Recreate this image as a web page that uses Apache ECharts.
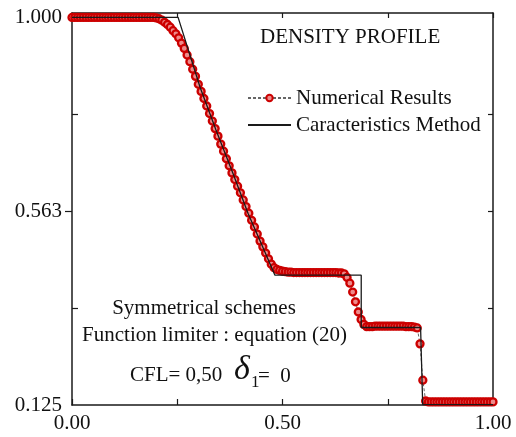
<!DOCTYPE html>
<html>
<head>
<meta charset="utf-8">
<script src="https://cdn.jsdelivr.net/npm/echarts@6/dist/echarts.min.js"></script>
<style>
  html, body { margin: 0; padding: 0; background: #fff; }
  #chart { width: 516px; height: 437px; }
</style>
</head>
<body>
<div id="chart"></div>
<script>
// Shock-tube density profile: numerical scheme (150 cells) vs. exact characteristics solution.
const cellCount = 150;

// Numerical density at x = i / cellCount, i = 0..150
const numericalDensity = [
  1.000, 1.000, 1.000, 1.000, 1.000, 1.000, 1.000, 1.000, 1.000, 1.000,
  1.000, 1.000, 1.000, 1.000, 1.000, 1.000, 1.000, 1.000, 1.000, 1.000,
  1.000, 1.000, 1.000, 1.000, 1.000, 1.000, 1.000, 1.000, 1.000, 1.000,
  0.999, 0.997, 0.994, 0.989, 0.984, 0.978, 0.970, 0.963, 0.954, 0.942,
  0.930, 0.915, 0.900, 0.883, 0.867, 0.849, 0.833, 0.817, 0.800, 0.783,
  0.766, 0.749, 0.732, 0.714, 0.698, 0.681, 0.665, 0.649, 0.634, 0.619,
  0.604, 0.588, 0.573, 0.558, 0.542, 0.527, 0.511, 0.495, 0.482, 0.468,
  0.455, 0.443, 0.435, 0.431, 0.429, 0.427, 0.426,
  0.425, 0.425, 0.424, 0.424, 0.424, 0.424, 0.424, 0.424, 0.424, 0.424,
  0.424, 0.424, 0.424, 0.424, 0.424, 0.424, 0.424, 0.424, 0.423, 0.423,
  0.421, 0.413, 0.400, 0.380, 0.358, 0.335, 0.318, 0.307, 0.302,
  0.302, 0.302, 0.303, 0.303, 0.303, 0.303, 0.303, 0.303, 0.303, 0.303,
  0.303, 0.303, 0.303, 0.302, 0.302, 0.302, 0.301,
  0.299, 0.263, 0.181, 0.134,
  0.132, 0.132, 0.132, 0.132, 0.132, 0.132, 0.132, 0.132, 0.132, 0.132,
  0.132, 0.132, 0.132, 0.132, 0.132, 0.132, 0.132, 0.132, 0.132, 0.132,
  0.132, 0.132, 0.132, 0.132
];

// Characteristics-method solution (breakpoints of the piecewise profile)
const exactX = [0.000, 0.252, 0.304, 0.342, 0.382, 0.418, 0.451, 0.482, 0.687, 0.687, 0.828, 0.833, 1.000];
const exactY = [1.000, 1.000, 0.843, 0.746, 0.649, 0.558, 0.486, 0.418, 0.418, 0.300, 0.300, 0.126, 0.126];

// Axis ticks and labels
const xTickLabels = ['0.00', '0.50', '1.00'];
const xLabelValues = [0, 0.5, 1];
const yLabelValues = [0.125, 0.5625, 1.0];
const yTickLabels = ['0.125', '0.563', '1.000'];
const yInnerTicks = [0.34375, 0.78125];
const yRightTicks = [0.34375, 0.5625, 0.78125];

const seriesNames = ['Numerical Results', 'Caracteristics Method'];

const FONT = '"Liberation Serif", "Times New Roman", serif';
const INK = '#111';

const numericalData = numericalDensity.map((v, i) => [i / cellCount, v]);
const exactData = exactX.map((x, i) => [x, exactY[i]]);

const chart = echarts.init(document.getElementById('chart'), null, { renderer: 'canvas' });

const axisLine = { show: true, lineStyle: { color: '#1a1a1a', width: 1.5 } };

chart.setOption({
  animation: false,
  backgroundColor: '#fff',
  grid: { left: 72, right: 23, top: 13, bottom: 32, containLabel: false },
  legend: {
    orient: 'vertical',
    left: 242,
    top: 82,
    itemWidth: 43,
    itemHeight: 8,
    itemGap: 5,
    selectedMode: false,
    textStyle: { fontFamily: FONT, fontSize: 21, color: INK, lineHeight: 22 },
    data: [
      { name: seriesNames[0] },
      { name: seriesNames[1], itemStyle: { opacity: 0 } }
    ]
  },
  xAxis: [
    {
      type: 'value', position: 'bottom', min: 0, max: 1, interval: 0.25,
      axisLine: axisLine,
      axisTick: { show: true, inside: true, length: 6, lineStyle: { color: '#1a1a1a', width: 1.2 } },
      axisLabel: {
        margin: 8, fontFamily: FONT, fontSize: 21, color: INK,
        showMinLabel: true, showMaxLabel: true,
        formatter: function (v) {
          const k = xLabelValues.findIndex(t => Math.abs(t - v) < 1e-9);
          return k >= 0 ? xTickLabels[k] : '';
        }
      },
      splitLine: { show: false }
    },
    {
      type: 'value', position: 'top', min: 0, max: 1, interval: 0.25,
      axisLine: axisLine,
      axisTick: { show: true, inside: true, length: 5, lineStyle: { color: '#1a1a1a', width: 1.2 } },
      axisLabel: { show: false },
      splitLine: { show: false }
    }
  ],
  yAxis: [
    {
      type: 'value', position: 'left', min: 0.125, max: 1.01,
      axisLine: axisLine,
      axisTick: { show: true, inside: true, length: 6, customValues: yInnerTicks, lineStyle: { color: '#1a1a1a', width: 1.2 } },
      axisLabel: {
        margin: 10, fontFamily: FONT, fontSize: 21, color: INK,
        customValues: yLabelValues,
        formatter: function (v) {
          const k = yLabelValues.findIndex(t => Math.abs(t - v) < 1e-9);
          return k >= 0 ? yTickLabels[k] : '';
        }
      },
      splitLine: { show: false }
    },
    {
      type: 'value', position: 'left', min: 0.125, max: 1.01,
      axisLine: { show: false },
      axisTick: { show: true, inside: false, length: 7, customValues: [yLabelValues[1]], lineStyle: { color: '#1a1a1a', width: 1.2 } },
      axisLabel: { show: false },
      splitLine: { show: false }
    },
    {
      type: 'value', position: 'right', min: 0.125, max: 1.01,
      axisLine: axisLine,
      axisTick: { show: true, inside: true, length: 5, customValues: yRightTicks, lineStyle: { color: '#1a1a1a', width: 1.2 } },
      axisLabel: { show: false },
      splitLine: { show: false }
    }
  ],
  series: [
    {
      name: seriesNames[0],
      type: 'line',
      xAxisIndex: 0, yAxisIndex: 0,
      data: numericalData,
      symbol: 'circle',
      symbolSize: 7,
      showSymbol: true,
      showAllSymbol: true,
      lineStyle: { color: '#666', width: 1, type: [3, 2] },
      itemStyle: { color: '#ee8a8a', borderColor: '#cc0000', borderWidth: 2.3 },
      z: 2
    },
    {
      name: seriesNames[1],
      type: 'line',
      xAxisIndex: 0, yAxisIndex: 0,
      data: exactData,
      symbol: 'none',
      lineStyle: { color: '#1a1a1a', width: 1.3 },
      itemStyle: { color: '#1a1a1a' },
      z: 3
    }
  ],
  graphic: [
    { type: 'text', x: 260, y: 37.5, style: { text: 'DENSITY PROFILE', font: '21px ' + FONT, fill: INK, textAlign: 'left', textVerticalAlign: 'middle' } },
    { type: 'text', x: 204, y: 308, style: { text: 'Symmetrical schemes', font: '21px ' + FONT, fill: INK, textAlign: 'center', textVerticalAlign: 'middle' } },
    { type: 'text', x: 214.5, y: 335, style: { text: 'Function limiter : equation (20)', font: '21px ' + FONT, fill: INK, textAlign: 'center', textVerticalAlign: 'middle' } },
    { type: 'text', x: 130, y: 375.5, style: { text: 'CFL= 0,50', font: '21px ' + FONT, fill: INK, textAlign: 'left', textVerticalAlign: 'middle' } },
    { type: 'text', x: 234, y: 370, style: { text: 'δ', font: 'italic 34px ' + FONT, fill: INK, textAlign: 'left', textVerticalAlign: 'middle' } },
    { type: 'text', x: 251, y: 383, style: { text: '1', font: '17px ' + FONT, fill: INK, textAlign: 'left', textVerticalAlign: 'middle' } },
    { type: 'text', x: 258, y: 376, style: { text: '=  0', font: '21px ' + FONT, fill: INK, textAlign: 'left', textVerticalAlign: 'middle' } }
  ]
});
</script>
</body>
</html>
